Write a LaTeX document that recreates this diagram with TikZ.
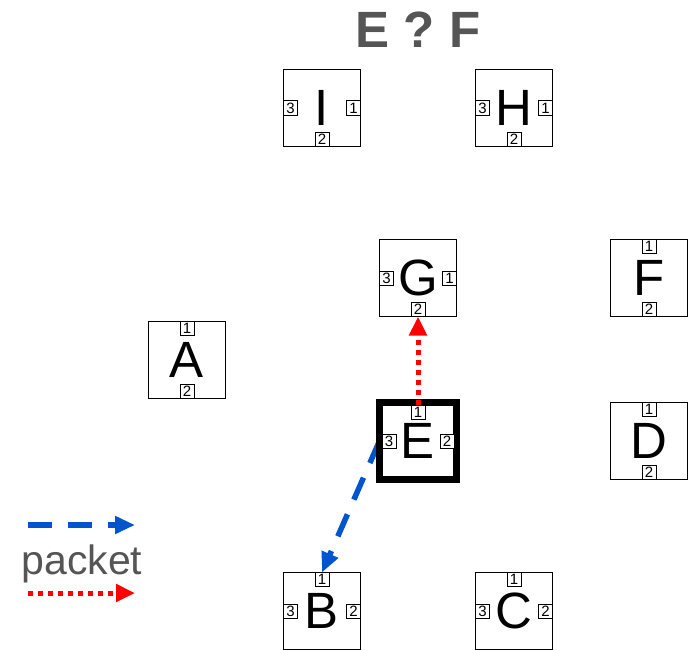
\documentclass[tikz,border=0pt]{standalone}
\usepackage{fontspec}
\setmainfont{Liberation Sans}
\usetikzlibrary{positioning,arrows.meta,backgrounds}

\definecolor{pktblue}{RGB}{0,85,204}
\definecolor{labelgray}{RGB}{85,85,85}

\tikzset{
    switch/.style={draw, fill=white, line width=1.3pt, minimum size=77pt, inner sep=0pt,
                   outer sep=0pt, font=\fontsize{51}{51}\selectfont},
    current/.style={switch, line width=7pt},
    port/.style={draw, fill=white, line width=1pt, minimum size=14pt, inner sep=0pt,
                 outer sep=0pt, font=\fontsize{15}{15}\selectfont},
    bluepkt/.style={pktblue, line width=5.5pt, dash pattern=on 24pt off 16pt,
                    -{Triangle[length=20pt,width=17pt]}},
    redpkt/.style={red, line width=5pt, dash pattern=on 5pt off 5pt,
                   -{Triangle[length=19pt,width=17pt]}},
}

\begin{document}
\begin{tikzpicture}[x=1pt, y=-1pt]
    \useasboundingbox (0,0) rectangle (692,650);

    \node[font=\fontsize{51}{51}\selectfont\bfseries, text=labelgray] (title) at (418,30) {E ? F};

    % switches
    \node[switch]  (I) at (322,108) {I};
    \node[switch]  (H) at (514,108) {H};
    \node[switch]  (G) at (418,278) {G};
    \node[switch]  (F) at (649,278) {F};
    \node[switch]  (A) at (187,360) {A};
    \node[current] (E) at (418,441) {E};
    \node[switch]  (D) at (649,441) {D};
    \node[switch]  (B) at (322,611) {B};
    \node[switch]  (C) at (514,611) {C};

    % ports
    \node[port, left=0pt of I.east]   (I1) {1};
    \node[port, above=0pt of I.south] (I2) {2};
    \node[port, right=0pt of I.west]  (I3) {3};
    \node[port, left=0pt of H.east]   (H1) {1};
    \node[port, above=0pt of H.south] (H2) {2};
    \node[port, right=0pt of H.west]  (H3) {3};
    \node[port, left=0pt of G.east]   (G1) {1};
    \node[port, above=0pt of G.south] (G2) {2};
    \node[port, right=0pt of G.west]  (G3) {3};

    \node[port, below=0pt of F.north] (F1) {1};
    \node[port, above=0pt of F.south] (F2) {2};
    \node[port, below=0pt of A.north] (A1) {1};
    \node[port, above=0pt of A.south] (A2) {2};
    \node[port, below=0pt of D.north] (D1) {1};
    \node[port, above=0pt of D.south] (D2) {2};

    \node[port, below=2.5pt of E.north] (E1) {1};
    \node[port, left=2.5pt of E.east]   (E2) {2};
    \node[port, right=2.5pt of E.west]  (E3) {3};
    \node[port, below=0pt of B.north]   (B1) {1};
    \node[port, left=0pt of B.east]     (B2) {2};
    \node[port, right=0pt of B.west]    (B3) {3};
    \node[port, below=0pt of C.north]   (C1) {1};
    \node[port, left=0pt of C.east]     (C2) {2};
    \node[port, right=0pt of C.west]    (C3) {3};

    % packets
    \draw[redpkt]  (E1.north) -- (G2.south);
    \begin{pgfonlayer}{background}
        \draw[bluepkt] (E.west) -- (B1.north);
    \end{pgfonlayer}

    % legend
    \coordinate (blueL) at (28,525);
    \coordinate (blueR) at (135,525);
    \coordinate (redL)  at (28,593);
    \coordinate (redR)  at (135,593);
    \draw[bluepkt] (blueL) -- (blueR);
    \draw[redpkt]  (redL) -- (redR);
    \node[font=\fontsize{41}{41}\selectfont, text=labelgray] (legend) at (82,564) {packet};
\end{tikzpicture}
\end{document}
